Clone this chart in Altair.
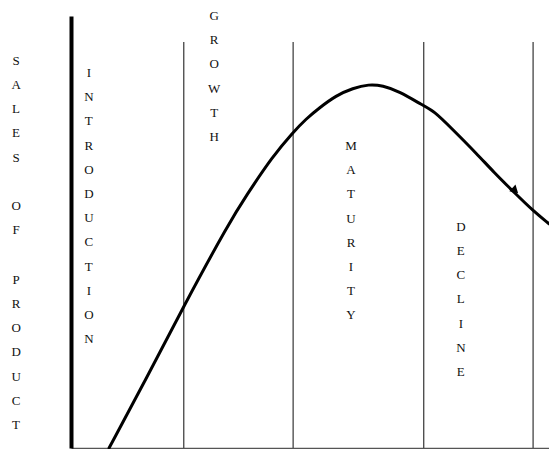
import altair as alt
import pandas as pd

# Product life-cycle curve (time units from the sales axis, sales units 0-100)
curve_t = [7.9, 15.6, 23.4, 32.8, 36.3, 41.9, 46.1, 48.8, 51.5, 55.0, 58.5, 61.8, 64.7, 68.0,
           73.2, 75.3, 78.8, 84.4, 87.6, 92.3, 95.9, 99.2]
curve_s = [0.0, 16.0, 32.9, 52.1, 58.3, 67.6, 73.1, 76.2, 78.7, 81.6, 83.3, 84.2, 83.9, 82.6,
           79.2, 78.0, 74.2, 67.9, 64.0, 58.8, 54.9, 51.9]

# Stage boundaries
boundary_t = [23.4, 46.1, 73.2, 95.9]
boundary_top = 94

# Vertical labels (one letter per line): the sales axis label words and the four stages
label_texts = ["SALES", "OF", "PRODUCT", "INTRODUCTION", "GROWTH", "MATURITY", "DECLINE"]
label_t = [-11.4, -11.4, -11.4, 3.7, 29.7, 58.1, 80.9]
label_s = [91.0, 57.5, 40.3, 88.2, 101.4, 71.3, 52.6]

# Arrowhead position on the curve
arrow_t = [92.2]
arrow_s = [59.6]

FONT = "Liberation Serif"
TEXT_COLOR = "#111111"

curve_df = pd.DataFrame({"t": curve_t, "s": curve_s, "o": list(range(len(curve_t)))})
bound_df = pd.DataFrame({"t": boundary_t, "top": [boundary_top] * len(boundary_t), "bottom": [0] * len(boundary_t)})
label_df = pd.DataFrame({"t": label_t, "s": label_s, "label": ["\n".join(n) for n in label_texts]})
arrow_df = pd.DataFrame({"t": arrow_t, "s": arrow_s})

xs = alt.Scale(domain=[0, 99.2], nice=False, zero=False)
ys = alt.Scale(domain=[0, 100], nice=False, zero=False)

x_axis = alt.Axis(title=None, labels=False, ticks=False, grid=False,
                  domainColor="#555555", domainWidth=1.5)
y_axis = alt.Axis(title=None, labels=False, ticks=False, grid=False,
                  domainColor="#000000", domainWidth=4)

rules = alt.Chart(bound_df).mark_rule(color="#444444", strokeWidth=1.3).encode(
    x=alt.X("t:Q", scale=xs, axis=x_axis),
    y=alt.Y("top:Q", scale=ys, axis=y_axis),
    y2="bottom:Q",
)

curve = alt.Chart(curve_df).mark_line(color="black", strokeWidth=3, interpolate="basis",
                                      strokeCap="round").encode(
    x=alt.X("t:Q", scale=xs),
    y=alt.Y("s:Q", scale=ys),
    order="o:Q",
)

arrow = alt.Chart(arrow_df).mark_point(shape="triangle-right", filled=True, color="black",
                                        size=80, angle=43, opacity=1).encode(
    x=alt.X("t:Q", scale=xs),
    y=alt.Y("s:Q", scale=ys),
)

labels = alt.Chart(label_df).mark_text(font=FONT, fontSize=13, color=TEXT_COLOR,
                                        lineBreak="\n", lineHeight=24.2,
                                        align="center", baseline="top").encode(
    x=alt.X("t:Q", scale=xs),
    y=alt.Y("s:Q", scale=ys),
    text="label:N",
)

chart = alt.layer(rules, curve, arrow, labels).properties(
    width=478, height=432,
    autosize=alt.AutoSizeParams(type="none"),
    padding={"left": 63, "top": 8, "right": 0, "bottom": 1},
    background="white",
).configure_view(stroke=None)

chart.save("out.html", embed_options={"renderer": "svg", "actions": False})
